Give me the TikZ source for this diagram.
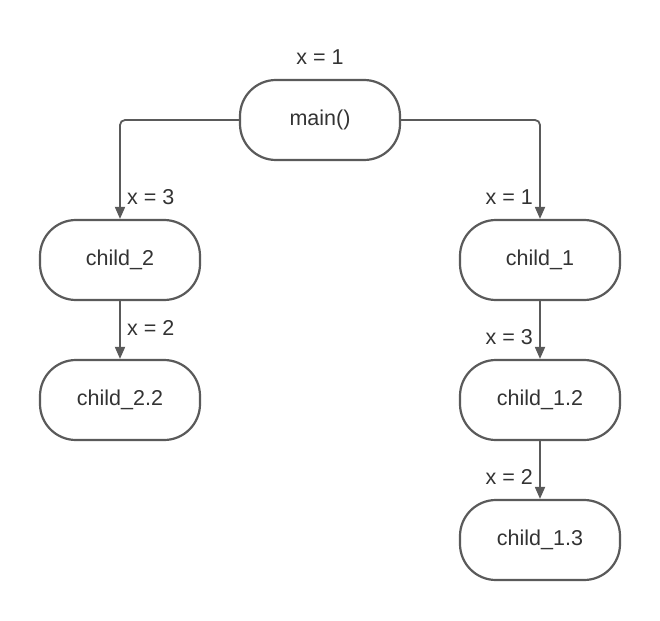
\documentclass[tikz,border=0pt]{standalone}
\usepackage{fontspec}
\setmainfont{Liberation Sans}
\usetikzlibrary{arrows.meta}
\definecolor{linegray}{HTML}{5A5A5A}
\definecolor{txt}{HTML}{333333}
\begin{document}
\begin{tikzpicture}[x=1pt,y=-1pt,
  proc/.style={draw=linegray,line width=2.2pt,rounded corners=36pt,minimum width=160pt,minimum height=80pt,inner sep=0pt,text=txt,font=\fontsize{21.5}{24}\selectfont},
  lbl/.style={text=txt,font=\fontsize{21.5}{24}\selectfont,inner sep=0pt},
  conn/.style={draw=linegray,line width=1.8pt,-{Triangle[length=12pt,width=10pt]},rounded corners=5pt}]
\useasboundingbox (0,0) rectangle (660,620);
\node[proc] (main) at (320,120) {main()};
\node[proc] (c2) at (120,260) {child\_2};
\node[proc] (c22) at (120,400) {child\_2.2};
\node[proc] (c1) at (540,260) {child\_1};
\node[proc] (c12) at (540,400) {child\_1.2};
\node[proc] (c13) at (540,540) {child\_1.3};
\node[lbl] (l0) at (320,57) {x = 1};
\node[lbl,anchor=west] (l1) at (127,197) {x = 3};
\node[lbl,anchor=east] (l2) at (533,197) {x = 1};
\node[lbl,anchor=west] (l3) at (127,328) {x = 2};
\node[lbl,anchor=east] (l4) at (533,337) {x = 3};
\node[lbl,anchor=east] (l5) at (533,477) {x = 2};
\draw[conn] (main.west) -| (c2.north);
\draw[conn] (main.east) -| (c1.north);
\draw[conn] (c2.south) -- (c22.north);
\draw[conn] (c1.south) -- (c12.north);
\draw[conn] (c12.south) -- (c13.north);
\end{tikzpicture}
\end{document}
